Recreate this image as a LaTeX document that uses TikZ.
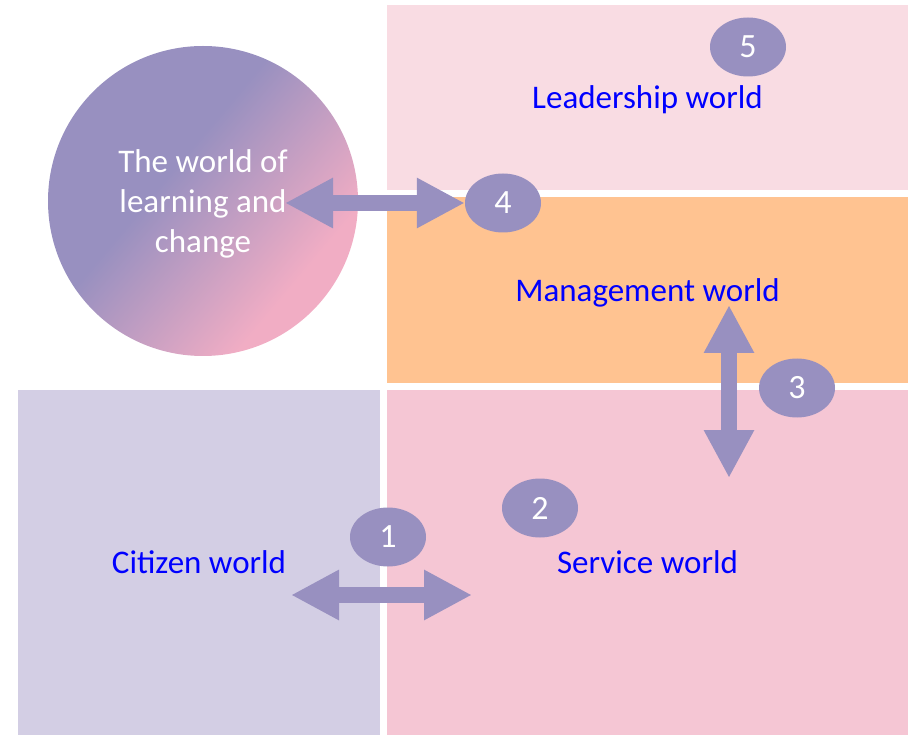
\documentclass[tikz,border=0pt]{standalone}
\usepackage{fontspec}
\setmainfont{Carlito}
\usetikzlibrary{arrows.meta,positioning,shapes.geometric}

\definecolor{leadpink}{HTML}{F9DCE3}
\definecolor{mgmtorange}{HTML}{FFC391}
\definecolor{servpink}{HTML}{F5C6D4}
\definecolor{citlav}{HTML}{D3CEE4}
\definecolor{worldpurple}{HTML}{9890C0}
\definecolor{worldpink}{HTML}{F1ADC4}

% purple to pink, rotated later
\pgfdeclareverticalshading{learnshade}{100bp}{color(0bp)=(worldpink); color(30bp)=(worldpink); color(57bp)=(worldpurple); color(100bp)=(worldpurple)}

\tikzset{
  worldbox/.style={draw=none,inner sep=0pt,text depth=0pt,text=blue,font=\fontsize{33}{40}\selectfont},
  stepnum/.style={ellipse,fill=worldpurple,minimum width=76pt,minimum height=59pt,inner sep=0pt,text=white,font=\fontsize{34}{40}\selectfont},
  bigarrow/.style={draw=worldpurple,line width=16pt,{Triangle[length=48pt,width=47pt]}-{Triangle[length=48pt,width=47pt]}}
}

\begin{document}
\begin{tikzpicture}[x=1pt,y=-1pt]
\useasboundingbox (0,0) rectangle (908,735);
% the four worlds
\node[worldbox,fill=leadpink,minimum width=521pt,minimum height=185pt] (lead) at (647.5,97.5) {Leadership world};
\node[worldbox,fill=mgmtorange,minimum width=521pt,minimum height=186pt] (mgmt) at (647.5,290) {Management world};
\node[worldbox,fill=servpink,minimum width=521pt,minimum height=345pt] (serv) at (647.5,562.5) {Service world};
\node[worldbox,fill=citlav,minimum width=362pt,minimum height=345pt] (cit) at (199,562.5) {Citizen world};
% learning and change circle
\node[circle,minimum size=310pt,inner sep=0pt,shading=learnshade,shading angle=50,align=center,text=white,font=\fontsize{33}{40}\selectfont] (learn) at (203,201) {\strut The world of\\learning and\\change};
% numbered steps
\node[stepnum] (n5) at (748,47) {5};
\node[stepnum] (n4) at (503,203) {4};
\node[stepnum] (n3) at (797,388) {3};
\node[stepnum] (n2) at (540,508) {2};
\node[stepnum] (n1) at (388,537) {1};
% arrow ends
\coordinate (a4) at (285,203);
\coordinate (a1l) at (291,595);
\coordinate (a1r) at (472,595);
\coordinate (a3t) at (729,305);
\coordinate (a3b) at (729,478);
\draw[bigarrow] (a4) -- (n4.west);
\draw[bigarrow] (a1l) -- (a1r);
\draw[bigarrow] (a3t) -- (a3b);
\end{tikzpicture}
\end{document}
